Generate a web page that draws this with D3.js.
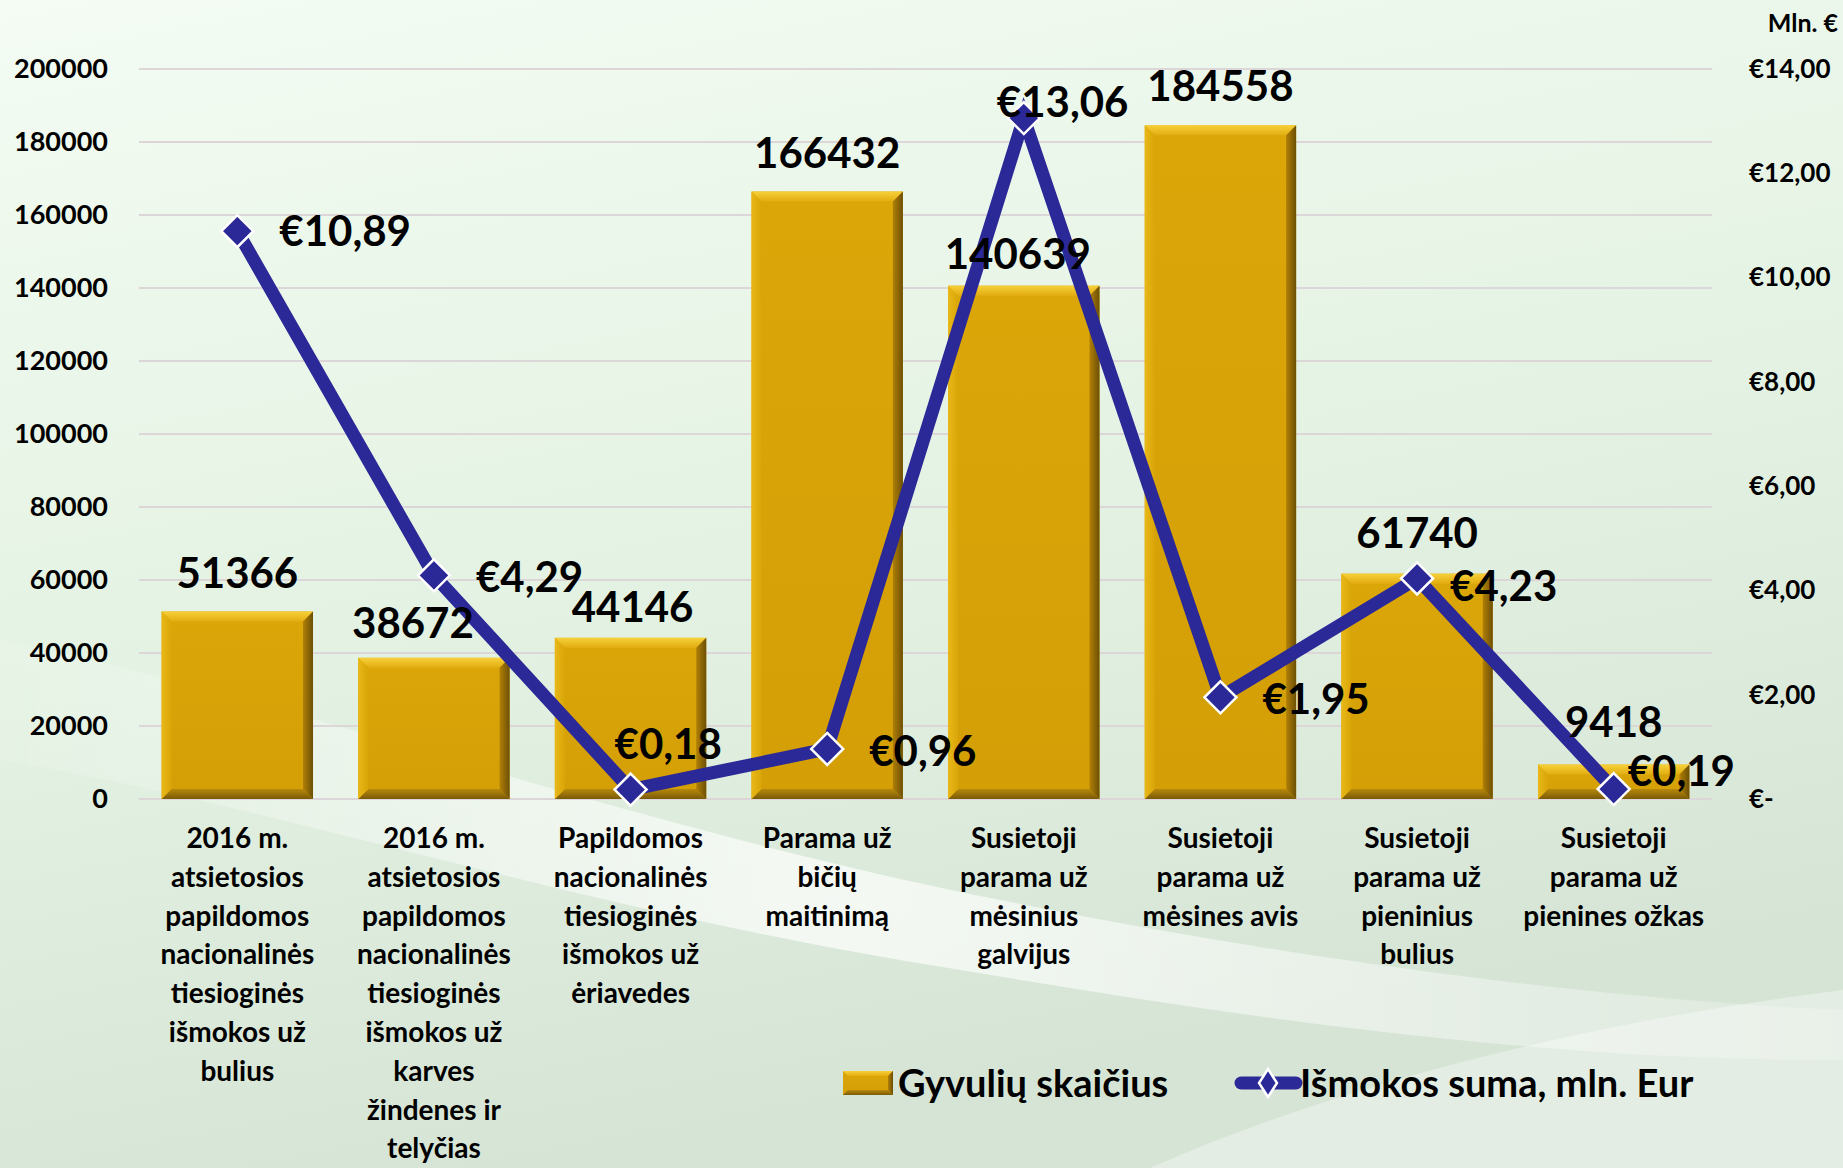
<!DOCTYPE html>
<html>
<head>
<meta charset="utf-8">
<script src="https://cdn.jsdelivr.net/npm/d3@7"></script>
<style>
  html, body { margin: 0; padding: 0; background: #eaf6e9; }
  svg { display: block; font-family: Lato, "Open Sans", sans-serif; font-weight: bold; }
</style>
</head>
<body>
<div id="chart"></div>
<script>
var categories = [
  "2016 m.\natsietosios\npapildomos\nnacionalinės\ntiesioginės\nišmokos už\nbulius",
  "2016 m.\natsietosios\npapildomos\nnacionalinės\ntiesioginės\nišmokos už\nkarves\nžindenes ir\ntelyčias",
  "Papildomos\nnacionalinės\ntiesioginės\nišmokos už\nėriavedes",
  "Parama už\nbičių\nmaitinimą",
  "Susietoji\nparama už\nmėsinius\ngalvijus",
  "Susietoji\nparama už\nmėsines avis",
  "Susietoji\nparama už\npieninius\nbulius",
  "Susietoji\nparama už\npienines ožkas"
];
var animals = [51366, 38672, 44146, 166432, 140639, 184558, 61740, 9418];
var payments = [10.89, 4.29, 0.18, 0.96, 13.06, 1.95, 4.23, 0.19];
var seriesNames = ["Gyvulių skaičius", "Išmokos suma, mln. Eur"];
var rightUnit = "Mln. €";

// where each € label sits next to its marker (px)
var labelOffsets = [[42, 0], [42, 2], [-16, -46], [42, 2], [-27, -16], [42, 2], [33, 7], [14, -18]];
// small nudges of the bar value labels (px)
var barLabelOffsets = [[0, -24], [-21, -20], [2, -16], [0, -24], [-6, -17], [0, -24], [0, -26], [0, -28]];

var W = 1843, H = 1168;
var plotL = 139, plotR = 1712, plotT = 69, plotB = 799;

var svg = d3.select("#chart").append("svg")
  .attr("width", W).attr("height", H);

var defs = svg.append("defs");

var bg = defs.append("linearGradient").attr("id", "bg")
  .attr("x1", 0).attr("y1", 0).attr("x2", 0.3).attr("y2", 1);
bg.append("stop").attr("offset", "0%").attr("stop-color", "#f4fcf3");
bg.append("stop").attr("offset", "55%").attr("stop-color", "#e3f2e2");
bg.append("stop").attr("offset", "100%").attr("stop-color", "#d6e4d5");

var sw = defs.append("linearGradient").attr("id", "swoosh")
  .attr("x1", 0).attr("y1", 0).attr("x2", 1).attr("y2", 0);
sw.append("stop").attr("offset", "0%").attr("stop-color", "#ffffff").attr("stop-opacity", 0.1);
sw.append("stop").attr("offset", "45%").attr("stop-color", "#ffffff").attr("stop-opacity", 0.7);
sw.append("stop").attr("offset", "100%").attr("stop-color", "#ffffff").attr("stop-opacity", 0.2);

function grad(id, c1, c2, vertical) {
  var g = defs.append("linearGradient").attr("id", id)
    .attr("x1", 0).attr("y1", 0).attr("x2", vertical ? 0 : 1).attr("y2", vertical ? 1 : 0);
  g.append("stop").attr("offset", "0%").attr("stop-color", c1);
  g.append("stop").attr("offset", "100%").attr("stop-color", c2);
}
grad("gTop", "#f7d03a", "#e2ad10", true);
grad("gBot", "#b8890a", "#7a5a08", true);
grad("gLeft", "#e9b818", "#d9a508", false);
grad("gRight", "#b07f06", "#6d5006", false);
grad("gFace", "#dba608", "#d49f06", true);

svg.append("rect").attr("width", W).attr("height", H).attr("fill", "url(#bg)");
svg.append("path")
  .attr("d", "M0,640 C300,700 600,820 1000,900 C1300,960 1600,1000 1843,1010 L1843,1060 C1500,1060 1200,1010 900,960 C550,900 250,800 0,760 Z")
  .attr("fill", "url(#swoosh)");
svg.append("path")
  .attr("d", "M1150,1168 C1350,1080 1600,1020 1843,990 L1843,1168 Z")
  .attr("fill", "#ffffff").attr("opacity", 0.35);

var x = d3.scaleBand().domain(d3.range(categories.length))
  .range([plotL, plotR]).paddingInner(0.23).paddingOuter(0.115);
var y = d3.scaleLinear().domain([0, 200000]).range([plotB, plotT]);
var y2 = d3.scaleLinear().domain([0, 14]).range([plotB, plotT]);

// grid
svg.append("g").selectAll("line").data(y.ticks(10)).join("line")
  .attr("x1", plotL).attr("x2", plotR)
  .attr("y1", function(d) { return y(d); }).attr("y2", function(d) { return y(d); })
  .attr("stroke", "#dcd6d8").attr("stroke-width", 2);

// left axis
var yAxis = svg.append("g").attr("transform", "translate(" + (plotL - 31) + ",0)")
  .call(d3.axisLeft(y).ticks(10).tickFormat(d3.format("d")).tickSize(0).tickPadding(0));
yAxis.select(".domain").remove();
yAxis.selectAll("text").attr("font-size", 27).attr("font-family", "Lato").attr("font-weight", "bold").attr("fill", "#000");

// right axis
function euro(v) {
  return v === 0 ? "€-" : "€" + d3.format(".2f")(v).replace(".", ",");
}
var y2Axis = svg.append("g").attr("transform", "translate(1749,0)")
  .call(d3.axisRight(y2).ticks(7).tickFormat(euro).tickSize(0).tickPadding(0));
y2Axis.select(".domain").remove();
y2Axis.selectAll("text").attr("font-size", 26).attr("font-family", "Lato").attr("font-weight", "bold").attr("fill", "#000");

svg.append("text").attr("x", 1838).attr("y", 32).attr("text-anchor", "end")
  .attr("font-size", 25).text(rightUnit);

// bars with bevel
var bv = 10;
var bar = svg.append("g").selectAll("g").data(animals).join("g");
bar.each(function(d, i) {
  var g = d3.select(this);
  var x0 = x(i), x1 = x(i) + x.bandwidth(), y0 = y(d), y1 = y(0);
  var b = Math.min(bv, (y1 - y0) / 2);
  g.append("rect").attr("x", x0).attr("y", y0).attr("width", x1 - x0).attr("height", y1 - y0)
    .attr("fill", "url(#gFace)");
  g.append("polygon").attr("fill", "url(#gTop)")
    .attr("points", [[x0, y0], [x1, y0], [x1 - b, y0 + b], [x0 + b, y0 + b]].join(" "));
  g.append("polygon").attr("fill", "url(#gBot)")
    .attr("points", [[x0, y1], [x1, y1], [x1 - b, y1 - b], [x0 + b, y1 - b]].join(" "));
  g.append("polygon").attr("fill", "url(#gLeft)")
    .attr("points", [[x0, y0], [x0 + b, y0 + b], [x0 + b, y1 - b], [x0, y1]].join(" "));
  g.append("polygon").attr("fill", "url(#gRight)")
    .attr("points", [[x1, y0], [x1 - b, y0 + b], [x1 - b, y1 - b], [x1, y1]].join(" "));
});

// line
var cx = function(i) { return x(i) + x.bandwidth() / 2; };
var line = d3.line().x(function(d, i) { return cx(i); }).y(function(d) { return y2(d); });
svg.append("path").datum(payments).attr("d", line)
  .attr("fill", "none").attr("stroke", "#2b2898").attr("stroke-width", 13)
  .attr("stroke-linejoin", "miter");

svg.append("g").selectAll("path").data(payments).join("path")
  .attr("transform", function(d, i) { return "translate(" + cx(i) + "," + y2(d) + ")"; })
  .attr("d", "M0,-16 L16,0 L0,16 L-16,0 Z")
  .attr("fill", "#2b2898").attr("stroke", "#ffffff").attr("stroke-width", 2.5);

// bar value labels (on top of the line)
svg.append("g").selectAll("text").data(animals).join("text")
  .attr("x", function(d, i) { return cx(i) + barLabelOffsets[i][0]; })
  .attr("y", function(d, i) { return y(d) + barLabelOffsets[i][1]; })
  .attr("text-anchor", "middle").attr("font-size", 42).attr("fill", "#000")
  .text(function(d) { return d; });

svg.append("g").selectAll("text").data(payments).join("text")
  .attr("x", function(d, i) { return cx(i) + labelOffsets[i][0]; })
  .attr("y", function(d, i) { return y2(d) + labelOffsets[i][1]; })
  .attr("dy", "0.36em").attr("font-size", 42).attr("fill", "#000")
  .text(function(d) { return euro(d); });

// category labels
var cat = svg.append("g").selectAll("text").data(categories).join("text")
  .attr("text-anchor", "middle").attr("font-size", 28).attr("fill", "#000")
  .attr("transform", function(d, i) { return "translate(" + cx(i) + ",848)"; });
cat.selectAll("tspan").data(function(d) { return d.split("\n"); }).join("tspan")
  .attr("x", 0).attr("y", function(d, j) { return j * 38.8; })
  .text(function(d) { return d; });

// legend
var lg = svg.append("g");
var sx0 = 843, sx1 = 893, sy0 = 1071, sy1 = 1095, b = 5;
lg.append("rect").attr("x", sx0).attr("y", sy0).attr("width", sx1 - sx0).attr("height", sy1 - sy0).attr("fill", "url(#gFace)");
lg.append("polygon").attr("fill", "url(#gTop)").attr("points", [[sx0, sy0], [sx1, sy0], [sx1 - b, sy0 + b], [sx0 + b, sy0 + b]].join(" "));
lg.append("polygon").attr("fill", "url(#gBot)").attr("points", [[sx0, sy1], [sx1, sy1], [sx1 - b, sy1 - b], [sx0 + b, sy1 - b]].join(" "));
lg.append("polygon").attr("fill", "url(#gRight)").attr("points", [[sx1, sy0], [sx1 - b, sy0 + b], [sx1 - b, sy1 - b], [sx1, sy1]].join(" "));
lg.append("text").attr("x", 898).attr("y", 1083).attr("dy", "0.36em").attr("font-size", 38).text(seriesNames[0]);

lg.append("line").attr("x1", 1241).attr("x2", 1296).attr("y1", 1083).attr("y2", 1083)
  .attr("stroke", "#2b2898").attr("stroke-width", 13).attr("stroke-linecap", "round");
lg.append("path").attr("transform", "translate(1268,1083)").attr("d", "M0,-14 L9,0 L0,14 L-9,0 Z")
  .attr("fill", "#2b2898").attr("stroke", "#ffffff").attr("stroke-width", 2.5);
lg.append("text").attr("x", 1300).attr("y", 1083).attr("dy", "0.36em").attr("font-size", 38).text(seriesNames[1]);
</script>
</body>
</html>
